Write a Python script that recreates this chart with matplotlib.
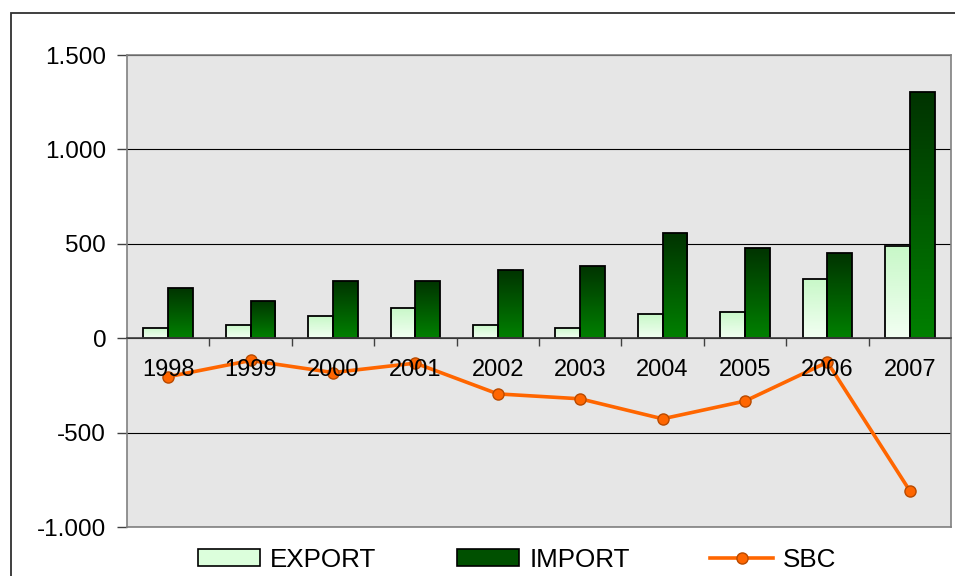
import numpy as np
import matplotlib
matplotlib.use('Agg')
import matplotlib.pyplot as plt
from matplotlib.ticker import FuncFormatter, FixedLocator
from matplotlib.patches import Rectangle
from matplotlib.lines import Line2D
from matplotlib.colors import LinearSegmentedColormap

plt.rcParams['font.family'] = ['Liberation Sans', 'DejaVu Sans']

# data
years = ['1998', '1999', '2000', '2001', '2002', '2003', '2004', '2005', '2006', '2007']
export = [56, 70, 116, 162, 70, 56, 127, 139, 314, 487]
imports = [268, 197, 303, 303, 361, 384, 559, 478, 453, 1305]
sbc = [-204, -118, -182, -132, -295, -321, -427, -333, -127, -808]

fig = plt.figure(figsize=(9.55, 5.76), dpi=100)
ax = fig.add_axes([127 / 955, 49 / 576, 824 / 955, 472 / 576])
ax.set_facecolor('#e6e6e6')

x = np.arange(len(years))
w = 0.30

exp_cmap = LinearSegmentedColormap.from_list('exp', ['#f2fff2', '#c8f8c8'])
imp_cmap = LinearSegmentedColormap.from_list('imp', ['#008000', '#003300'])
grad = np.linspace(0, 1, 64).reshape(-1, 1)

b1 = ax.bar(x - w / 2, export, w, color='#dfffdf', edgecolor='black', linewidth=1.3, zorder=3)
b2 = ax.bar(x + w / 2, imports, w, color='#005a00', edgecolor='black', linewidth=1.3, zorder=3)

# gradient fill inside every bar
for bars, cmap in ((b1, exp_cmap), (b2, imp_cmap)):
    for bar in bars:
        bx, by = bar.get_x(), bar.get_y()
        bw, bh = bar.get_width(), bar.get_height()
        im = ax.imshow(grad, cmap=cmap, aspect='auto', origin='lower',
                       extent=[bx, bx + bw, by, by + bh], zorder=3.5)
        im.set_clip_path(bar)
        bar.set_facecolor('none')
        bar.set_zorder(4)

ax.plot(x, sbc, color='#ff6600', linewidth=2.6, marker='o', markersize=8,
        markerfacecolor='#ff6600', markeredgecolor='#b84a00', markeredgewidth=1, zorder=5)

ax.set_xlim(-0.5, len(years) - 0.5)
ax.set_ylim(-1000, 1500)
ax.yaxis.set_major_locator(FixedLocator([-1000, -500, 0, 500, 1000, 1500]))
ax.yaxis.set_major_formatter(FuncFormatter(lambda v, p: f'{v:,.0f}'.replace(',', '.')))
ax.tick_params(axis='y', length=7, width=1, color='#404040', pad=8, labelsize=17.5)
ax.set_xticks([])
ax.grid(axis='y', color='black', linewidth=0.8)
ax.set_axisbelow(True)
for s in ax.spines.values():
    s.set_color('#808080')
    s.set_linewidth(1.2)

# category axis sits at zero, labels drawn over the line
sec = ax.secondary_xaxis(1000 / 2500)
sec.set_zorder(10)
sec.set_xticks(x, labels=years)
sec.set_xticks(x[:-1] + 0.5, minor=True)
sec.tick_params(axis='x', which='major', length=0, pad=15, labelsize=17)
sec.tick_params(axis='x', which='minor', length=6, width=1, color='#404040', direction='out')
sec.spines['bottom'].set_color('#404040')
sec.spines['bottom'].set_linewidth(1.2)

# outer chart frame
fig.patches.append(Rectangle((11 / 955, -0.1), 1.2, 1.1 - 13 / 576, transform=fig.transFigure,
                             fill=False, edgecolor='#303030', linewidth=1.3))

handles = [Rectangle((0, 0), 1, 1, facecolor='#dcffdc', edgecolor='black', linewidth=1.2),
           Rectangle((0, 0), 1, 1, facecolor='#005000', edgecolor='black', linewidth=1.2),
           Line2D([], [], color='#ff6600', linewidth=2.6, marker='o', markersize=8,
                  markerfacecolor='#ff6600', markeredgecolor='#b84a00')]
fig.legend(handles, ['EXPORT', 'IMPORT', 'SBC'], loc='center', ncol=3,
           bbox_to_anchor=(517 / 955, 1 - 560 / 576), frameon=False, fontsize=18.7,
           handlelength=2.4, handleheight=0.62, handletextpad=0.38, columnspacing=3.1,
           borderpad=0, borderaxespad=0)

fig.savefig('out.png', dpi=100)
